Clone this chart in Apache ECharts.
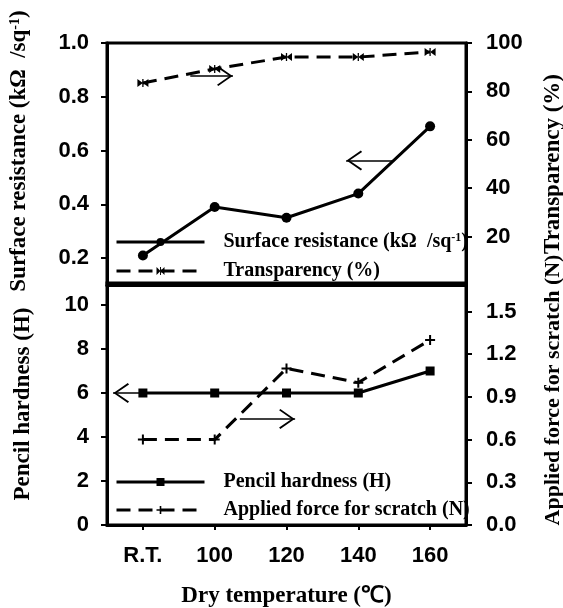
<!DOCTYPE html>
<html>
<head>
<meta charset="utf-8">
<script src="https://cdn.jsdelivr.net/npm/echarts@6/dist/echarts.min.js"></script>
<style>
html,body{margin:0;padding:0;background:#fff;}
#chart{width:563px;height:608px;}
</style>
</head>
<body>
<div id="chart"></div>
<script>
// ---- data ----
var categories = ['R.T.', '100', '120', '140', '160'];
var resistance = [0.21, 0.39, 0.35, 0.44, 0.69];
var transparency = [83.5, 89.3, 94.2, 94.2, 96.3];
var hardness = [6, 6, 6, 6, 7];
var scratchForce = [0.6, 0.6, 1.1, 1.0, 1.3];

var resTicks = [0.2, 0.4, 0.6, 0.8, 1.0];
var transTicks = [20, 40, 60, 80, 100];
var hardTicks = [0, 2, 4, 6, 8, 10];
var forceTicks = [0.0, 0.3, 0.6, 0.9, 1.2, 1.5];

// annotation arrows: [xFrom, xTo, y] in category-index units / left-axis values (tip at xTo)
var topArrows = [[0.66, 1.255, 0.877], [3.47, 2.83, 0.563]];
var bottomArrows = [[0.0, -0.416, 6], [1.35, 2.12, 4.82]];

var resName = 'Surface resistance (k\u03A9  /sq-1)';
var transName = 'Transparency (%)';
var hardName = 'Pencil hardness (H)';
var forceName = 'Applied force for scratch (N)';

var SERIF = 'Liberation Serif, Times New Roman, serif';
var SANS = 'Liberation Sans, Arial, sans-serif';

var chevron = 'path://M10,0 L10.05,0 L10,0.05 Z M10,16 L20,30 L18.6,31.2 L10,19 L1.4,31.2 L0,30 Z';
var bowtie = 'path://M0,0 L6,4 L0,8 Z M12,0 L6,4 L12,8 Z M5.3,0 L6.7,0 L6.7,8 L5.3,8 Z';
var plus = 'path://M4,0 H6 V4 H10 V6 H6 V10 H4 V6 H0 V4 H4 Z';

var solidStyle = {color: '#000', width: 3};
var dashStyle = {color: '#000', width: 3, type: [14, 8]};

function arrowData(list) {
  return list.map(function (a) {
    return [{coord: [a[0], a[2]]}, {coord: [a[1], a[2]]}];
  });
}

function nameRich(fs) {
  return {
    a: {fontFamily: SERIF, fontWeight: 'bold', fontSize: fs, color: '#000'},
    s: {fontFamily: SERIF, fontWeight: 'bold', fontSize: 14, color: '#000', verticalAlign: 'top'}
  };
}
var legRich = {
  a: {fontFamily: SERIF, fontWeight: 'bold', fontSize: 20, color: '#000'},
  s: {fontFamily: SERIF, fontWeight: 'bold', fontSize: 12, color: '#000', verticalAlign: 'top'}
};
function legFmt(name) {
  if (name === resName) return '{a|Surface resistance (k\u03A9  /sq}{s|-1}{a|)}';
  return '{a|' + name + '}';
}

var tickLabel = {fontFamily: SANS, fontWeight: 'bold', fontSize: 22, color: '#000'};

function yAxis(grid, pos, min, max, ticks, digits, name, gap, pad, margin, fs) {
  return {
    type: 'value', gridIndex: grid, position: pos, min: min, max: max,
    axisLine: {show: true, onZero: false, lineStyle: {color: '#000', width: 3}},
    axisTick: {show: true, inside: false, length: 6, lineStyle: {color: '#000', width: 2}, customValues: ticks},
    axisLabel: Object.assign({margin: margin, customValues: ticks, formatter: function (v) { return v.toFixed(digits); }}, tickLabel),
    splitLine: {show: false},
    name: name, nameLocation: 'middle', nameRotate: 90, nameGap: gap,
    nameTextStyle: {rich: nameRich(fs), fontFamily: SERIF, fontWeight: 'bold', fontSize: fs, color: '#000', padding: pad}
  };
}

var gridBase = {left: 107, right: 97, height: 242, show: true, borderColor: '#000', borderWidth: 3,
  backgroundColor: 'transparent', containLabel: false, outerBoundsMode: 'none'};

var option = {
  animation: false,
  backgroundColor: '#fff',
  grid: [
    Object.assign({top: 43}, gridBase),
    Object.assign({top: 283}, gridBase)
  ],
  xAxis: [
    {type: 'category', gridIndex: 0, data: categories, boundaryGap: true,
      axisLine: {onZero: false, lineStyle: {color: '#000', width: 3}}, axisTick: {show: false}, axisLabel: {show: false}},
    {type: 'category', gridIndex: 1, data: categories, boundaryGap: true,
      axisLine: {onZero: false, lineStyle: {color: '#000', width: 3}},
      axisTick: {show: true, alignWithLabel: true, length: 5, lineStyle: {color: '#000', width: 2}},
      axisLabel: Object.assign({margin: 20}, tickLabel),
      name: 'Dry temperature (\u2103)', nameLocation: 'middle', nameGap: 60,
      nameTextStyle: {fontFamily: SERIF, fontWeight: 'bold', fontSize: 23, color: '#000'}},
    {type: 'value', gridIndex: 0, min: -0.5, max: 4.5, show: false},
    {type: 'value', gridIndex: 1, min: -0.5, max: 4.5, show: false}
  ],
  yAxis: [
    yAxis(0, 'left', 0.1, 1.0, resTicks, 1, '{a|Surface resistance (k\u03A9  /sq}{s|-1}{a|)}', 76, [0, 0, 0, 26], 18, 23),
    yAxis(0, 'right', 0, 100, transTicks, 0, '{a|' + transName + '}', 76, 0, 20, 23),
    yAxis(1, 'left', 0, 11, hardTicks, 0, '{a|' + hardName + '}', 72, 0, 18, 23),
    yAxis(1, 'right', 0, 1.7, forceTicks, 1, '{a|' + forceName + '}', 76, [0, 0, 0, 28], 20, 22)
  ],
  legend: [
    {data: [{name: resName, lineStyle: solidStyle}, {name: transName, lineStyle: dashStyle}],
      orient: 'vertical', left: 110, top: 227, itemWidth: 88, itemHeight: 10, itemGap: 9,
      formatter: legFmt, textStyle: {rich: legRich, padding: [0, 0, 0, 14]}, selectedMode: false},
    {data: [{name: hardName, lineStyle: solidStyle}, {name: forceName, lineStyle: dashStyle}],
      orient: 'vertical', left: 110, top: 467, itemWidth: 88, itemHeight: 10, itemGap: 8,
      formatter: legFmt, textStyle: {rich: legRich, padding: [0, 0, 0, 14]}, selectedMode: false}
  ],
  series: [
    {name: resName, type: 'line', xAxisIndex: 0, yAxisIndex: 0, data: resistance,
      symbol: 'circle', symbolSize: 10, lineStyle: solidStyle, itemStyle: {color: '#000'}},
    {name: transName, type: 'line', xAxisIndex: 0, yAxisIndex: 1, data: transparency,
      symbol: bowtie, symbolSize: [11, 8], lineStyle: dashStyle, itemStyle: {color: '#000'}},
    {name: hardName, type: 'line', xAxisIndex: 1, yAxisIndex: 2, data: hardness,
      symbol: 'rect', symbolSize: 9, lineStyle: solidStyle, itemStyle: {color: '#000'}},
    {name: forceName, type: 'line', xAxisIndex: 1, yAxisIndex: 3, data: scratchForce,
      symbol: plus, symbolSize: 10, lineStyle: dashStyle, itemStyle: {color: '#000'}},
    {name: 'arrowsTop', type: 'line', xAxisIndex: 2, yAxisIndex: 0, data: [], silent: true,
      markLine: {silent: true, symbol: ['none', chevron], symbolSize: [20, 32], label: {show: false},
        lineStyle: {type: 'solid', color: '#000', width: 1.5}, emphasis: {disabled: true}, data: arrowData(topArrows)}},
    {name: 'arrowsBottom', type: 'line', xAxisIndex: 3, yAxisIndex: 2, data: [], silent: true,
      markLine: {silent: true, symbol: ['none', chevron], symbolSize: [20, 32], label: {show: false},
        lineStyle: {type: 'solid', color: '#000', width: 1.5}, emphasis: {disabled: true}, data: arrowData(bottomArrows)}}
  ]
};

var chart = echarts.init(document.getElementById('chart'), null, {renderer: 'canvas'});
chart.setOption(option);
</script>
</body>
</html>
